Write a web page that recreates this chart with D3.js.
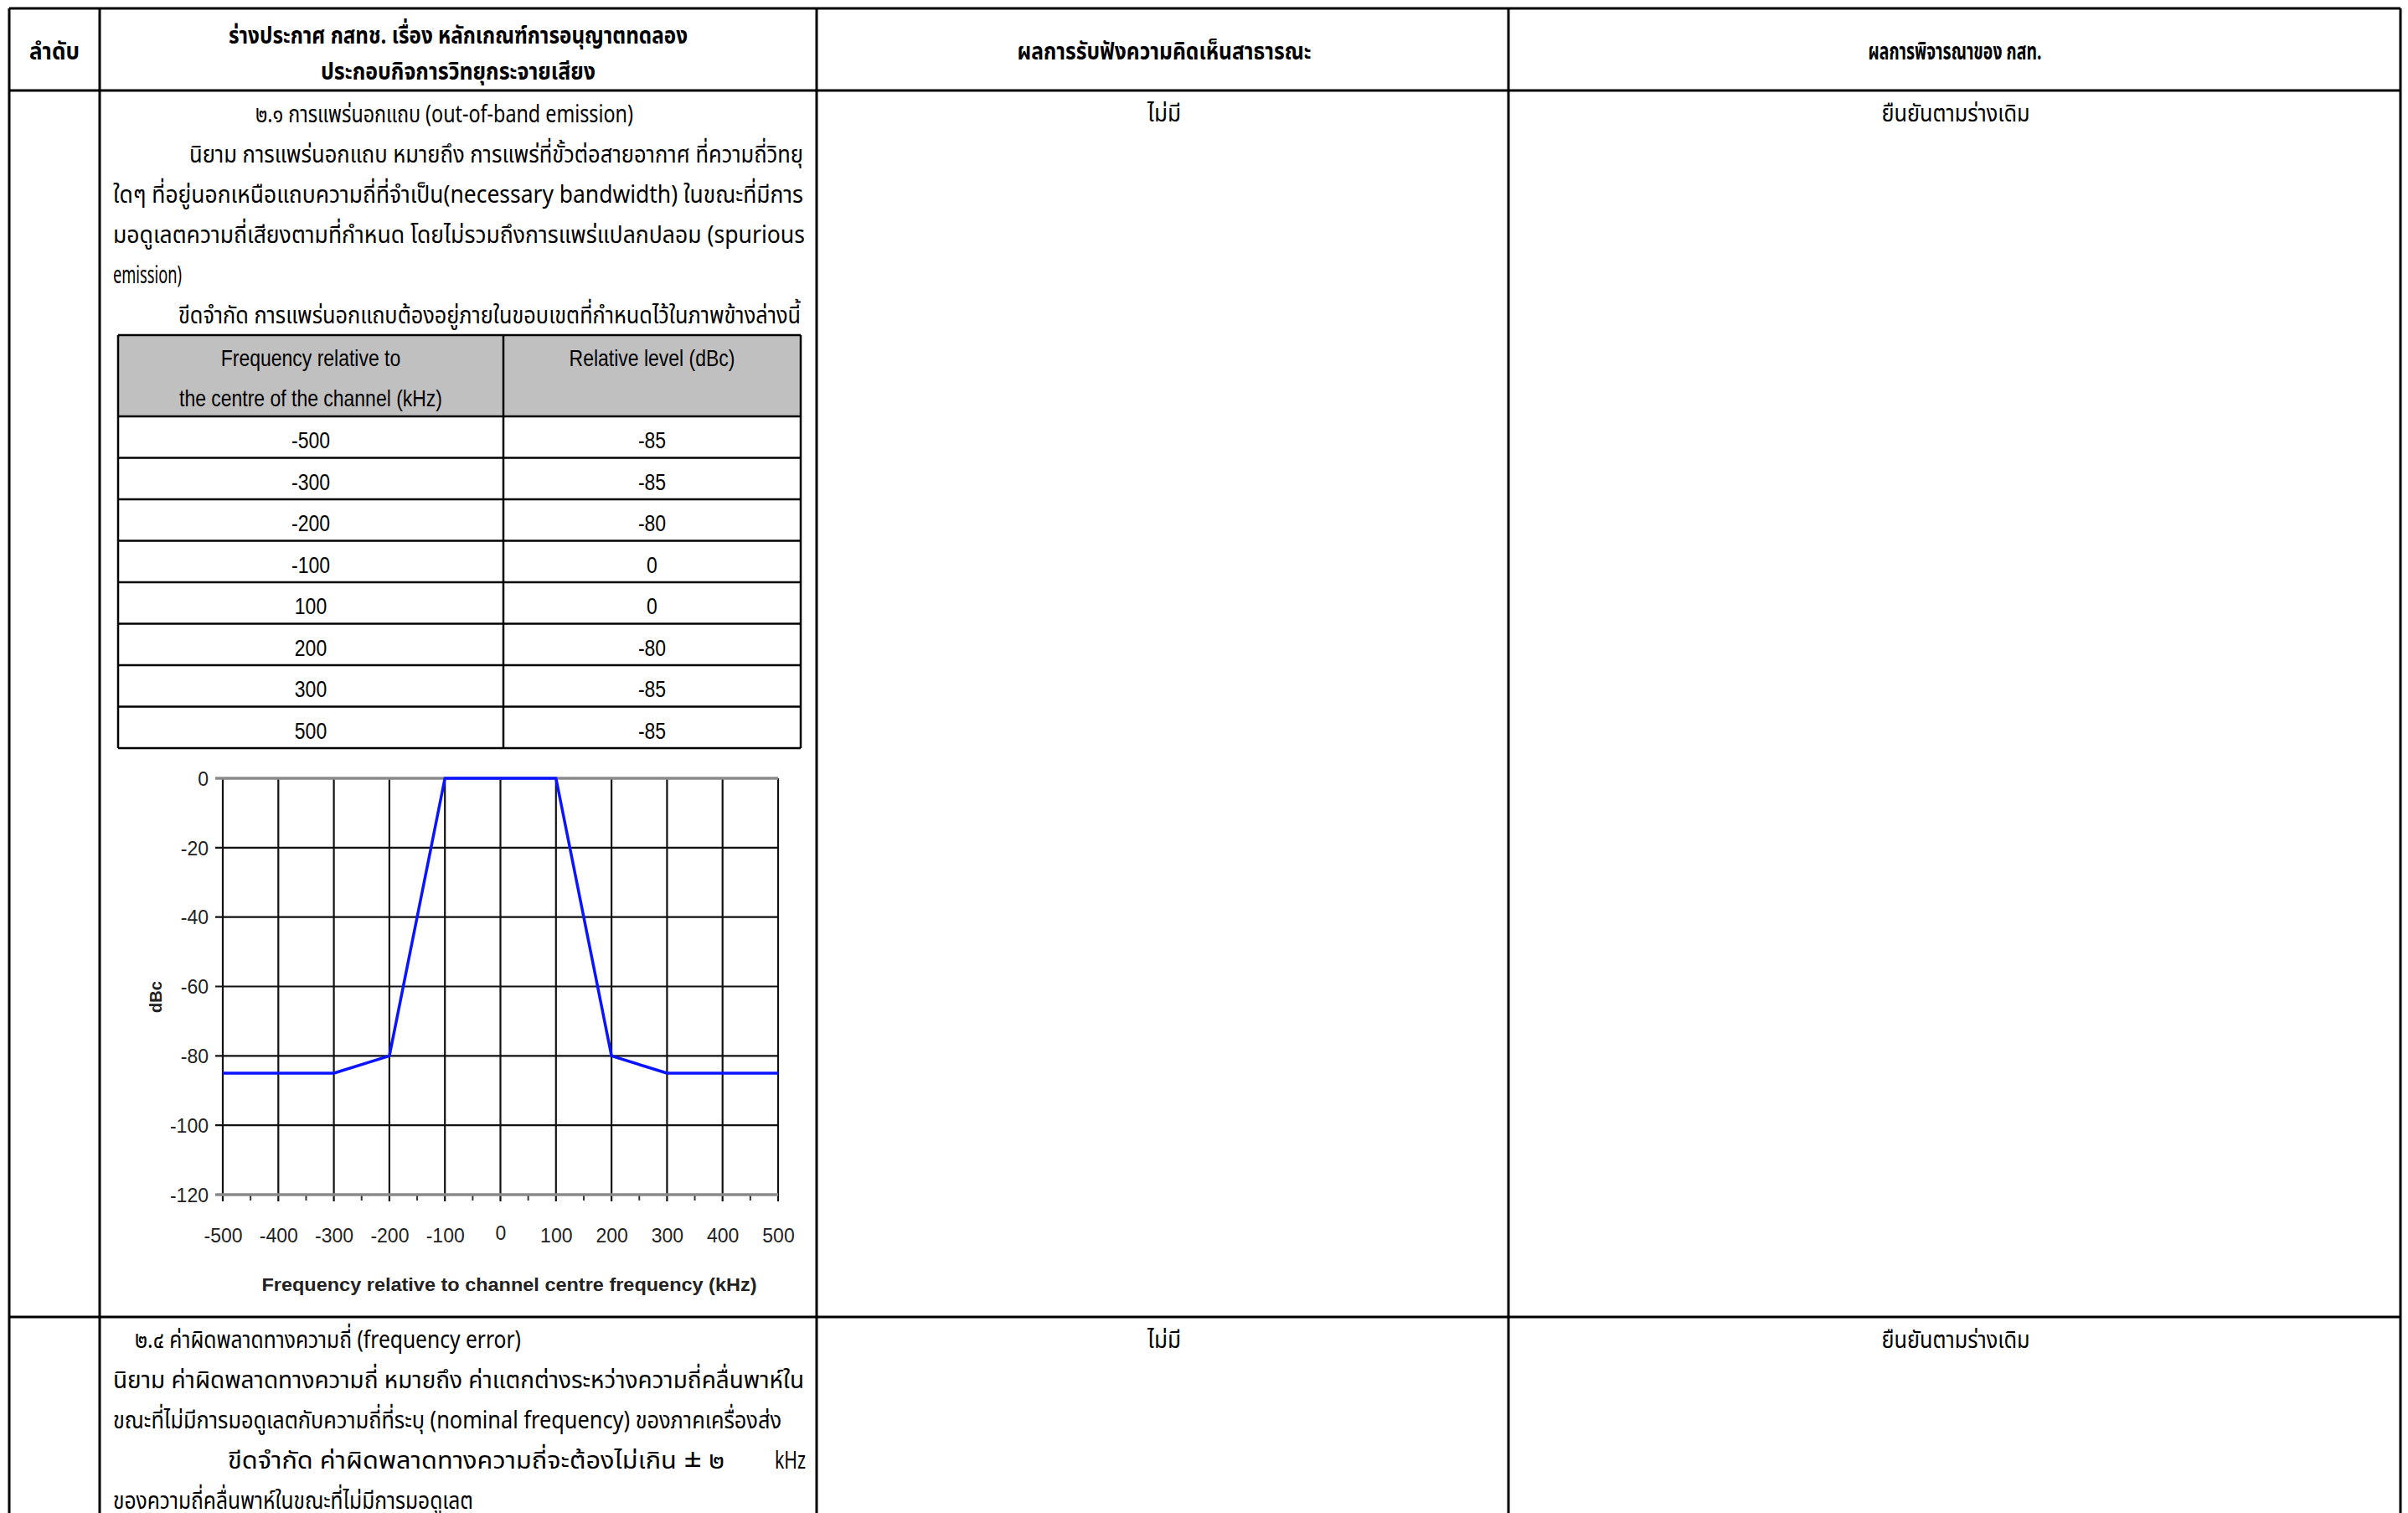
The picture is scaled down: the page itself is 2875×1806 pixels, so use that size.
<!DOCTYPE html>
<html>
<head>
<meta charset="utf-8">
<script src="https://cdn.jsdelivr.net/npm/d3@7"></script>
<style>
  body { margin: 0; background: #fff; }
  .doc { font-family: "Noto Sans Thai", "Noto Sans Thai UI", "Loma", "Garuda", "Norasi", "Noto Sans", "DejaVu Sans", sans-serif; font-size: 29px; fill: #000; }
  .doc.bold { font-weight: bold; }
  .num { font-family: "Liberation Sans", Arial, sans-serif; font-size: 28px; fill: #000; }
  .chart text { font-family: "Liberation Sans", Arial, sans-serif; fill: #222; }
</style>
</head>
<body>
<svg id="page" width="2875" height="1806"></svg>
<script>
// ---- data ----
const freqKHz  = [-500, -300, -200, -100, 100, 200, 300, 500];
const levelDBc = [-85, -85, -80, 0, 0, -80, -85, -85];
const xTickValues = [-500, -400, -300, -200, -100, 0, 100, 200, 300, 400, 500];
const yTickValues = [0, -20, -40, -60, -80, -100, -120];

const headOrder = "ลำดับ";
const headDraft = ["ร่างประกาศ กสทช. เรื่อง หลักเกณฑ์การอนุญาตทดลอง", "ประกอบกิจการวิทยุกระจายเสียง"];
const headPublic = "ผลการรับฟังความคิดเห็นสาธารณะ";
const headDecision = "ผลการพิจารณาของ กสท.";
const publicComment = "ไม่มี";
const decision = "ยืนยันตามร่างเดิม";

const section1 = [
  "๒.๑ การแพร่นอกแถบ (out-of-band emission)",
  "นิยาม การแพร่นอกแถบ หมายถึง การแพร่ที่ขั้วต่อสายอากาศ  ที่ความถี่วิทยุ",
  "ใดๆ ที่อยู่นอกเหนือแถบความถี่ที่จำเป็น(necessary   bandwidth)  ในขณะที่มีการ",
  "มอดูเลตความถี่เสียงตามที่กำหนด   โดยไม่รวมถึงการแพร่แปลกปลอม   (spurious",
  "emission)",
  "ขีดจำกัด การแพร่นอกแถบต้องอยู่ภายในขอบเขตที่กำหนดไว้ในภาพข้างล่างนี้"
];
const section2 = [
  "๒.๔  ค่าผิดพลาดทางความถี่ (frequency error)",
  "นิยาม  ค่าผิดพลาดทางความถี่ หมายถึง ค่าแตกต่างระหว่างความถี่คลื่นพาห์ใน",
  "ขณะที่ไม่มีการมอดูเลตกับความถี่ที่ระบุ (nominal frequency) ของภาคเครื่องส่ง",
  "ขีดจำกัด  ค่าผิดพลาดทางความถี่จะต้องไม่เกิน ± ๒",
  "ของความถี่คลื่นพาห์ในขณะที่ไม่มีการมอดูเลต"
];
const section2Unit = "kHz";
const tableHead = [["Frequency relative to", "the centre of the channel (kHz)"], ["Relative level (dBc)"]];
const xTitle = "Frequency relative to channel centre frequency  (kHz)";
const yTitle = "dBc";

// ---- layout ----
const svg = d3.select("#page");
const col = [11, 119, 975, 1801, 2866];
const rowY = [10, 108, 1572];
const lineGap = 48;

// condensed text helper: fixed width or a squeeze factor of the natural width
function put(g, str, x, y, cls, opts = {}) {
  const t = g.append("text").attr("class", cls).attr("x", x).attr("y", y)
    .attr("text-anchor", opts.anchor || "start").text(str);
  if (opts.width) {
    t.attr("textLength", opts.width).attr("lengthAdjust", "spacingAndGlyphs");
  } else if (opts.squeeze) {
    const w = t.node().getComputedTextLength();
    t.attr("textLength", w * opts.squeeze).attr("lengthAdjust", "spacingAndGlyphs");
  }
  return t;
}

// ---- outer table ----
const frame = svg.append("g").attr("stroke", "#000").attr("stroke-width", 3);
rowY.forEach(r => frame.append("line").attr("x1", col[0]).attr("x2", col[4]).attr("y1", r).attr("y2", r));
col.forEach(c => frame.append("line").attr("x1", c).attr("x2", c).attr("y1", rowY[0]).attr("y2", 1806));

const doc = svg.append("g");
put(doc, headOrder, (col[0] + col[1]) / 2, 71, "doc bold", { anchor: "middle", width: 60 });
put(doc, headDraft[0], (col[1] + col[2]) / 2, 52, "doc bold", { anchor: "middle", width: 548 });
put(doc, headDraft[1], (col[1] + col[2]) / 2, 95, "doc bold", { anchor: "middle", width: 328 });
put(doc, headPublic, 1390, 71, "doc bold", { anchor: "middle", width: 351 });
put(doc, headDecision, 2334, 71, "doc bold", { anchor: "middle", width: 207 });

[rowY[1], rowY[2]].forEach(top => {
  put(doc, publicComment, 1390, top + 37, "doc", { anchor: "middle", width: 40 });
  put(doc, decision, 2335, top + 37, "doc", { anchor: "middle", width: 177 });
});

// section text lines [x, width]
const sec1Layout = [[305, 451], [226, 733], [135, 824], [135, 826], [135, 82], [213, 743]];
section1.forEach((s, i) => put(doc, s, sec1Layout[i][0], rowY[1] + 38 + i * lineGap, "doc", { width: sec1Layout[i][1] }));
const sec2Layout = [[161, 461], [135, 825], [135, 798], [272, 593], [135, 430]];
section2.forEach((s, i) => put(doc, s, sec2Layout[i][0], rowY[2] + 37 + i * lineGap, "doc", { width: sec2Layout[i][1] }));
put(doc, section2Unit, 925, rowY[2] + 37 + 3 * lineGap, "doc", { width: 37 });

// ---- small limit table ----
const tb = { left: 141, mid: 601, right: 956, top: 400, headBottom: 497, rowH: 49.5 };
const tg = svg.append("g");
tg.append("rect").attr("x", tb.left).attr("y", tb.top).attr("width", tb.right - tb.left)
  .attr("height", tb.headBottom - tb.top).attr("fill", "#c0c0c0");
const tBottom = tb.headBottom + tb.rowH * freqKHz.length;
const tl = tg.append("g").attr("stroke", "#000").attr("stroke-width", 2.5);
[tb.top, tb.headBottom].concat(freqKHz.map((d, i) => tb.headBottom + tb.rowH * (i + 1)))
  .forEach(y => tl.append("line").attr("x1", tb.left).attr("x2", tb.right).attr("y1", y).attr("y2", y));
[tb.left, tb.mid, tb.right].forEach(x => tl.append("line").attr("x1", x).attr("x2", x).attr("y1", tb.top).attr("y2", tBottom));

const c1 = (tb.left + tb.mid) / 2, c2 = (tb.mid + tb.right) / 2;
put(tg, tableHead[0][0], c1, 437, "num", { anchor: "middle", squeeze: 0.82 });
put(tg, tableHead[0][1], c1, 485, "num", { anchor: "middle", squeeze: 0.82 });
put(tg, tableHead[1][0], c2, 437, "num", { anchor: "middle", squeeze: 0.82 });
freqKHz.forEach((f, i) => {
  const y = tb.headBottom + tb.rowH * i + 38;
  put(tg, String(f), c1, y, "num", { anchor: "middle", squeeze: 0.82 });
  put(tg, String(levelDBc[i]), c2, y, "num", { anchor: "middle", squeeze: 0.82 });
});

// ---- mask chart ----
const x = d3.scaleLinear().domain([-500, 500]).range([266, 929]);
const y = d3.scaleLinear().domain([-120, 0]).range([1426, 929]);
const chart = svg.append("g").attr("class", "chart");

// minor ticks below the axis at the half-hundreds
chart.append("g").selectAll("line")
  .data(d3.range(-450, 500, 100))
  .join("line")
  .attr("x1", d => x(d)).attr("x2", d => x(d))
  .attr("y1", y(-120)).attr("y2", y(-120) + 7)
  .attr("stroke", "#333").attr("stroke-width", 2);

// vertical grid
chart.append("g").selectAll("line")
  .data(xTickValues)
  .join("line")
  .attr("x1", d => x(d)).attr("x2", d => x(d))
  .attr("y1", y(0)).attr("y2", y(-120) + 8)
  .attr("stroke", "#111").attr("stroke-width", 2.2);

// horizontal grid, with left ticks
chart.append("g").selectAll("line")
  .data(yTickValues.filter(v => v !== 0 && v !== -120))
  .join("line")
  .attr("x1", x(-500) - 9).attr("x2", x(500))
  .attr("y1", d => y(d)).attr("y2", d => y(d))
  .attr("stroke", "#111").attr("stroke-width", 2.2);

// top and bottom borders are grey
chart.append("g").selectAll("line")
  .data([0, -120])
  .join("line")
  .attr("x1", x(-500) - 9).attr("x2", x(500))
  .attr("y1", d => y(d)).attr("y2", d => y(d))
  .attr("stroke", "#8a8a8a").attr("stroke-width", 3.5);

// axis labels via d3 axis generators, domain and ticks hidden; plain hyphen minus
const plain = d => String(d);
const yAxis = chart.append("g")
  .attr("transform", `translate(${x(-500) - 17},0)`)
  .call(d3.axisLeft(y).tickValues(yTickValues).tickFormat(plain).tickSize(0).tickPadding(0));
yAxis.select(".domain").remove();
yAxis.selectAll("text").attr("font-size", 23).attr("fill", "#222").attr("dy", "0.36em");

const xAxis = chart.append("g")
  .attr("transform", `translate(0,${y(-120) + 49})`)
  .call(d3.axisBottom(x).tickValues(xTickValues).tickFormat(plain).tickSize(0).tickPadding(0));
xAxis.select(".domain").remove();
xAxis.selectAll("text").attr("font-size", 23).attr("fill", "#222").attr("dy", "0.36em")
  .attr("y", d => d === 0 ? -3 : 0);

// titles
put(chart, xTitle, 608, 1541, "", { anchor: "middle", width: 591 })
  .attr("font-size", 22).attr("font-weight", "bold");
chart.append("text")
  .attr("transform", "translate(193,1190) rotate(-90)")
  .attr("text-anchor", "middle")
  .attr("font-size", 20).attr("font-weight", "bold")
  .text(yTitle);

// limit line
const pts = freqKHz.map((f, i) => [f, levelDBc[i]]);
chart.append("path")
  .datum(pts)
  .attr("fill", "none")
  .attr("stroke", "#0a14ff")
  .attr("stroke-width", 3.5)
  .attr("stroke-linejoin", "round")
  .attr("d", d3.line().x(d => x(d[0])).y(d => y(d[1])));
</script>
</body>
</html>
